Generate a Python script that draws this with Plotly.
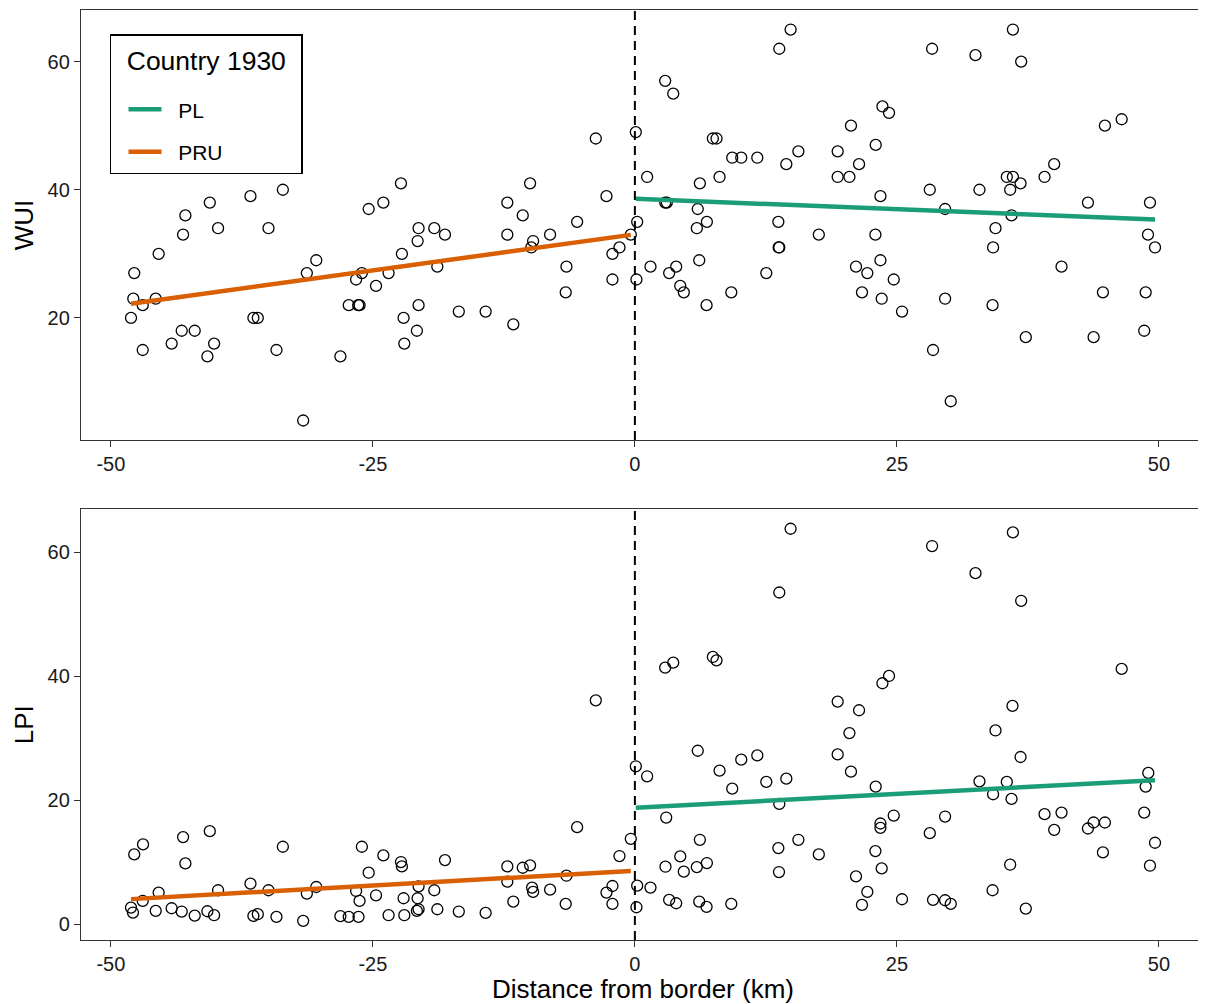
import numpy as np
import plotly.graph_objects as go

# ---------------- data ----------------
wui_x = [-47.77,-47.86,-46.96,-45.72,-48.08,-45.44,-46.96,-42.89,-43.11,-43.24,-42.0,-44.2,-40.56,-39.77,-40.15,-40.79,
         -36.68,-33.59,-34.96,-36.4,-35.98,-34.2,-31.65,-31.3,-30.4,-28.1,-27.3,-26.4,-26.27,-26.6,-26.05,-25.4,-24.0,
         -22.32,-24.7,-22.23,-23.5,-20.64,-20.73,-19.14,-18.12,-18.85,-22.07,-20.64,-20.8,-22.0,-16.8,-14.24,-11.6,
         -12.17,-10.0,-10.7,-12.17,-9.71,-9.88,-8.09,-5.51,-6.53,-6.6,-3.73,-2.71,-2.14,-1.47,-2.14,-0.39,
         0.09,0.22,0.15,1.17,1.49,2.89,3.66,2.9,3.05,3.27,3.94,4.33,4.67,6.0,5.91,6.87,6.2,6.14,6.84,7.44,7.79,8.08,
         9.29,10.15,11.68,9.2,12.54,13.69,13.72,13.78,13.78,14.86,14.45,15.6,17.55,19.35,19.35,20.47,20.62,21.39,
         22.98,23.62,24.25,23.43,22.95,21.1,22.18,23.43,21.67,23.55,24.7,25.49,28.36,28.14,29.6,29.6,28.45,30.14,
         32.5,36.07,36.86,32.88,35.49,36.07,35.81,36.8,39.09,40.01,35.94,34.41,34.18,34.13,37.3,40.71,43.23,44.85,
         46.45,44.66,43.77,49.15,48.96,49.63,48.74,48.6]
wui_y = [27,23,22,23,20,30,15,36,33,18,18,16,38,34,16,14,
         39,40,34,20,20,15,4,27,29,14,22,22,22,26,27,37,38,
         41,25,30,27,34,32,34,33,28,20,22,18,16,21,21,19,
         38,41,36,33,32,31,33,35,28,24,48,39,30,31,26,33,
         49,35,26,42,28,57,55,38,38,27,28,25,24,37,34,35,41,29,22,48,48,42,
         45,45,45,24,27,35,31,31,62,65,44,46,33,46,42,42,50,44,
         47,53,52,39,33,28,27,29,24,23,26,21,62,40,37,23,15,7,
         61,65,60,40,42,42,40,41,42,44,36,34,31,22,17,28,38,50,
         51,24,17,38,33,31,24,18]

lpi_x = [-47.77,-46.93,-48.08,-47.89,-46.96,-45.44,-45.72,-43.11,-42.89,-44.2,-43.24,-42.0,-40.56,-39.77,-40.79,-40.15,
         -36.68,-33.59,-34.96,-36.4,-35.98,-34.2,-31.65,-31.3,-30.4,-28.1,-27.3,-26.37,-26.6,-26.05,-25.4,-26.27,
         -24.0,-22.32,-22.23,-24.7,-23.5,-20.64,-20.73,-19.14,-18.12,-18.85,-22.07,-20.8,-20.64,-22.0,-16.8,
         -14.24,-11.6,-12.17,-12.17,-10.7,-10.0,-9.81,-9.71,-8.09,-6.53,-6.6,-5.51,-3.73,-2.71,-2.14,-2.14,-1.47,-0.39,
         0.09,0.22,0.15,1.17,1.49,2.89,3.66,2.99,2.92,3.27,3.94,4.33,4.67,6.0,5.91,6.87,6.2,6.14,6.84,7.44,7.79,8.08,
         9.29,10.15,11.68,9.2,12.54,13.69,13.75,13.78,14.86,14.45,13.78,15.6,17.55,
         19.35,19.35,20.47,20.62,21.39,22.98,23.62,24.25,23.43,23.43,22.95,21.1,22.18,23.55,21.67,24.7,25.49,
         28.36,28.14,29.6,29.6,28.45,30.14,32.5,36.07,36.86,32.88,35.49,36.03,35.81,36.8,39.09,40.01,35.94,34.41,
         34.18,34.13,37.3,40.71,43.23,44.85,46.45,44.66,43.77,48.99,48.74,48.6,49.63,49.15]
lpi_y = [11.25,12.86,2.68,1.88,3.75,5.09,2.15,14.04,9.8,2.57,2.04,1.39,15.0,5.47,2.09,1.45,
         6.54,12.49,5.47,1.34,1.61,1.18,0.54,4.93,6.0,1.29,1.18,1.18,5.36,12.49,8.3,3.75,
         11.09,10.02,9.32,4.66,1.45,6.11,4.18,5.47,10.34,2.41,4.18,2.15,2.41,1.45,2.04,
         1.82,3.64,9.32,6.86,9.1,9.49,5.9,5.2,5.57,7.82,3.27,15.65,36.1,5.09,6.16,3.27,10.99,13.77,
         25.46,6.21,2.73,23.85,5.9,41.37,42.17,17.2,9.27,3.91,3.38,10.93,8.47,27.97,9.21,9.86,13.61,3.64,2.79,43.09,42.55,24.76,
         21.86,26.53,27.22,3.27,22.94,12.27,8.41,53.49,63.77,23.47,19.4,13.61,11.25,
         35.9,27.38,30.82,24.6,34.5,22.19,38.85,40.03,16.24,15.54,11.79,7.72,5.2,9.0,3.11,17.52,4.02,
         60.98,14.68,17.36,3.86,3.91,3.27,56.6,63.18,52.15,23.04,22.94,35.2,9.59,26.96,17.74,15.22,20.2,31.24,
         20.95,5.47,2.52,18.0,15.43,16.4,41.16,11.58,16.4,24.39,22.19,18.0,13.13,9.43]

x_ticks = [-50, -25, 0, 25, 50]
x_ticklabels = ["-50", "-25", "0", "25", "50"]
wui_ticks = [20, 40, 60]
lpi_ticks = [0, 20, 40, 60]
groups = ["PL", "PRU"]
group_colors = {"PL": "#1B9E77", "PRU": "#D95F02"}

FONT = "Liberation Sans, Arial, Helvetica, sans-serif"
EN = "\u2002"


def fit_line(xs, ys, mask):
    xs = np.asarray(xs, float)[mask]
    ys = np.asarray(ys, float)[mask]
    b, a = np.polyfit(xs, ys, 1)
    xl = np.array([xs.min(), xs.max()])
    return xl, a + b * xl


fig = go.Figure()

panels = [("x", "y", wui_x, wui_y), ("x2", "y2", lpi_x, lpi_y)]
for i, (xa, ya, xs, ys) in enumerate(panels):
    fig.add_trace(go.Scatter(
        x=xs, y=ys, mode="markers", xaxis=xa, yaxis=ya, showlegend=False,
        marker=dict(symbol="circle-open", size=11, color="black", line=dict(width=1.3, color="black")),
        hoverinfo="skip"))
    xarr = np.asarray(xs, float)
    for g in groups:
        mask = xarr >= 0 if g == "PL" else xarr < 0
        xl, yl = fit_line(xs, ys, mask)
        extra = {}
        if g == "PL":
            extra["legendgrouptitle"] = dict(text="\u00a0", font=dict(size=10))
        fig.add_trace(go.Scatter(
            x=xl, y=yl, mode="lines", xaxis=xa, yaxis=ya, name="\u00a0\u00a0" + g, legendgroup=g,
            showlegend=(i == 0), line=dict(color=group_colors[g], width=4.5), **extra))

# dashed border lines
for xa, ya in [("x", "y"), ("x2", "y2")]:
    fig.add_shape(type="line", xref=xa, yref=f"{ya} domain", x0=0, x1=0, y0=0, y1=1,
                  line=dict(color="black", width=2, dash="9px,6px"))

axis_common = dict(showline=True, linecolor="#333333", linewidth=1.3, mirror=True,
                   ticks="outside", ticklen=6, tickwidth=1.3, tickcolor="#333333",
                   showgrid=False, zeroline=False, automargin=False,
                   tickfont=dict(family=FONT, size=20, color="#1a1a1a"))
title_font = dict(family=FONT, size=26, color="black")

# the page body adds an 8px margin, so the figure is sized to fit inside the window
fig.update_layout(
    width=1198, height=996,
    margin=dict(l=73, r=1, t=2, b=64),
    plot_bgcolor="white", paper_bgcolor="white",
    xaxis=dict(domain=[0, 1], anchor="y", range=[-52.85, 54.4], tickvals=x_ticks, ticktext=x_ticklabels,
               **axis_common),
    yaxis=dict(domain=[0.5376, 1.0], anchor="x", range=[0.95, 68.05], tickvals=wui_ticks,
               title=dict(text="WUI", font=title_font, standoff=6), **axis_common),
    xaxis2=dict(domain=[0, 1], anchor="y2", range=[-52.85, 54.4], tickvals=x_ticks, ticktext=x_ticklabels,
                title=dict(text="Distance from border (km)", font=title_font, standoff=0),
                **axis_common),
    yaxis2=dict(domain=[0, 0.4631], anchor="x2", range=[-2.55, 66.9], tickvals=lpi_ticks,
                title=dict(text="LPI", font=title_font, standoff=6), **axis_common),
    legend=dict(x=0.0258, y=0.9739, xanchor="left", yanchor="top",
                bgcolor="white", bordercolor="black", borderwidth=1.5,
                title=dict(text=EN + "Country 1930" + EN,
                           font=dict(family=FONT, size=26.5, color="black")),
                font=dict(family=FONT, size=21, color="black"),
                tracegroupgap=12, itemwidth=33, indentation=12),
    font=dict(family=FONT),
)

fig.write_html("out.html")
